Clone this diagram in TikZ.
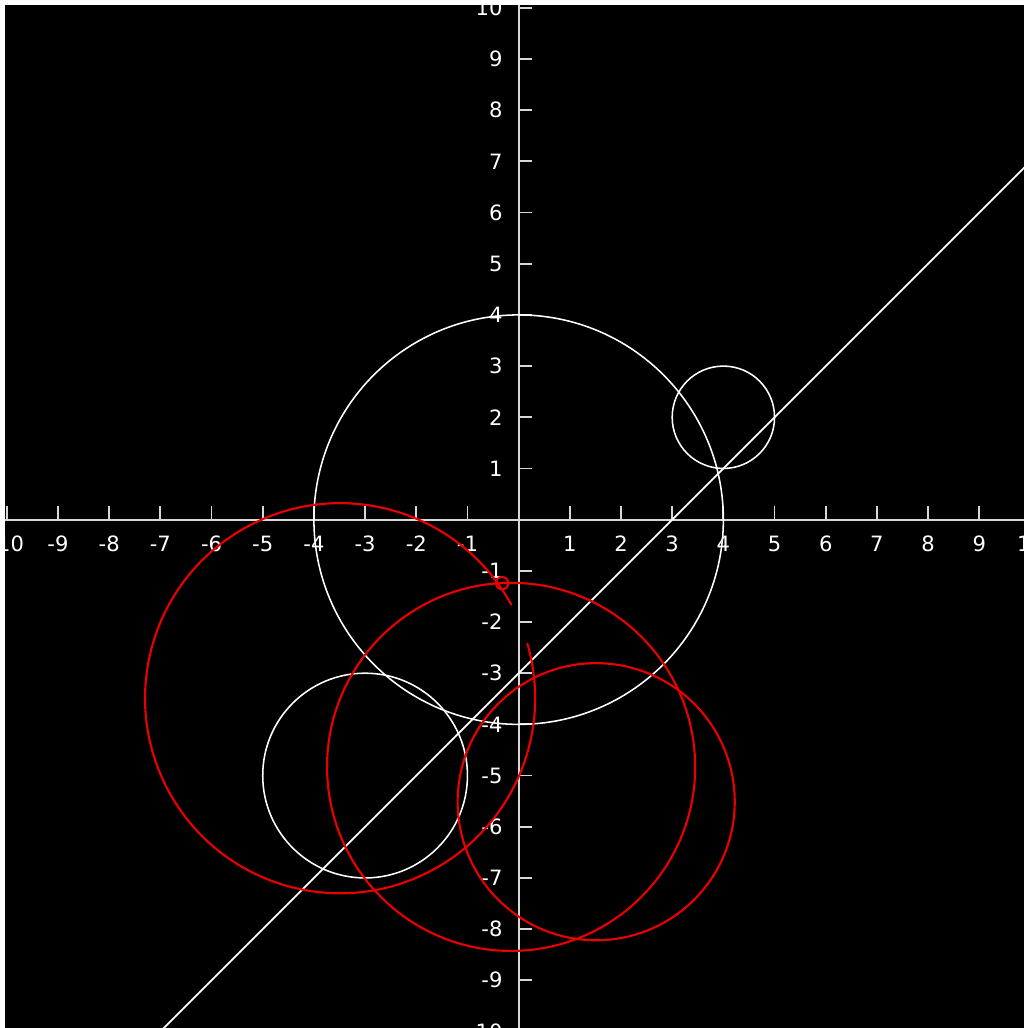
\documentclass[tikz,border=0pt]{standalone}
\usepackage{fontspec}
\setmainfont{DejaVu Sans}
\definecolor{axisgray}{RGB}{215,215,215}
\definecolor{plotred}{RGB}{235,0,0}
\tikzset{
  axisline/.style={draw=axisgray, line width=1.4pt},
  tickline/.style={draw=axisgray, line width=1.3pt},
  whitecurve/.style={draw=white, line width=1.1pt},
  redcurve/.style={draw=plotred, line width=1.5pt},
  ticklabel/.style={text=white, font=\fontsize{15}{15}\selectfont, inner sep=0pt},
}
\begin{document}
\begin{tikzpicture}[x=0.025cm,y=-0.025cm]
\useasboundingbox (0,0) rectangle (1024,1028);
\fill[white] (0,0) rectangle (1024,1028);
\fill[black] (5,5) rectangle (1024,1028);
\clip (5,5) rectangle (1024,1028);
\begin{scope}[shift={(12.9625cm,-12.9875cm)}, x=1.27925cm, y=1.27925cm]
  % axes
  \draw[axisline] (-10.5,0) -- (10.5,0);
  \draw[axisline] (0,-10.5) -- (0,10.5);
  \foreach \i in {-10,...,-1,1,2,...,10}{
    \draw[tickline] (\i,0) -- (\i,0.26);
    \draw[tickline] (0,\i) -- (0.27,\i);
    \node[ticklabel] (xl\i) at (\i,-0.47) {\i};
    \node[ticklabel, anchor=east] (yl\i) at (-0.31,\i) {\i};
  }
  % white shapes
  \draw[whitecurve] (0,0) circle[radius=4];
  \draw[whitecurve] (4,2) circle[radius=1];
  \draw[whitecurve] (-3,-5) circle[radius=2];
  \draw[draw=white, line width=1.3pt] (-7.5,-10.5) -- (10.5,7.5);
  % red curves
  \draw[redcurve] (-3.488,-3.489) ++(28.5:3.811) arc[start angle=28.5, end angle=376.4, radius=3.811];
  \draw[redcurve] (-0.147,-4.83) circle[radius=3.596];
  \draw[redcurve] (1.515,-5.511) circle[radius=2.707];
  \draw[redcurve] (-0.322,-1.241) circle[radius=0.12];
\end{scope}
\end{tikzpicture}
\end{document}
